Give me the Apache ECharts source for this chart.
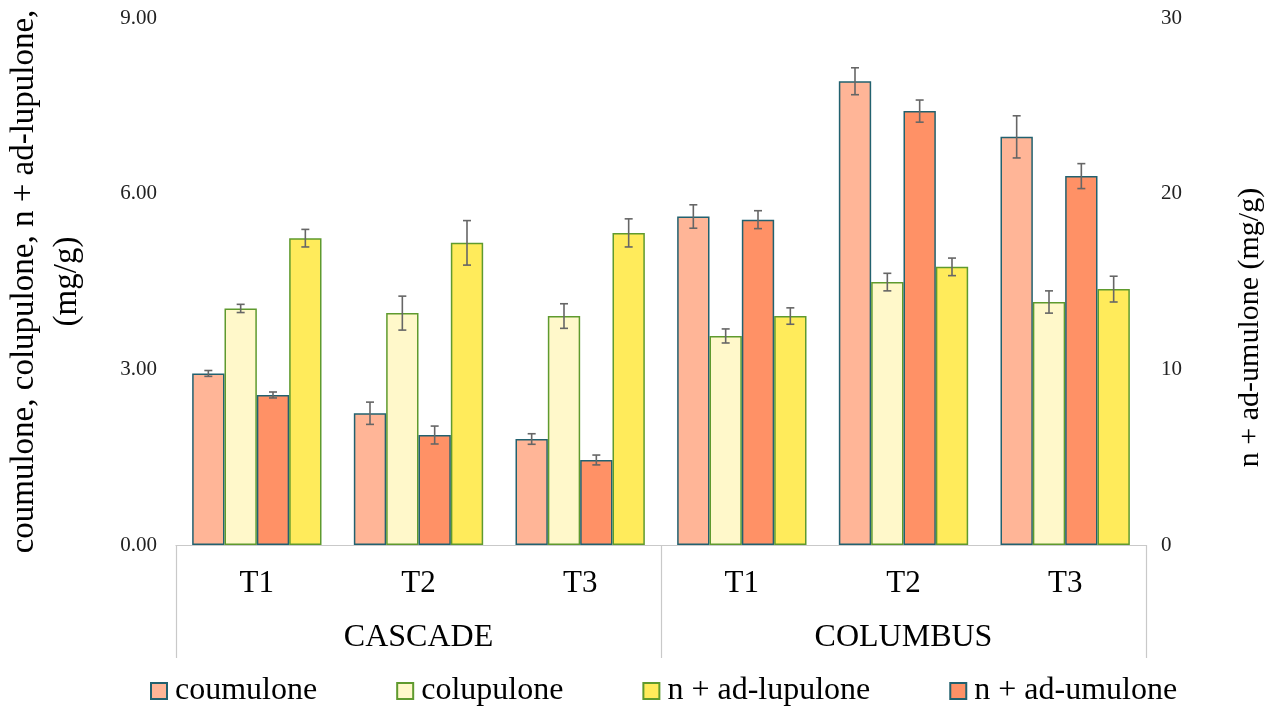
<!DOCTYPE html>
<html>
<head>
<meta charset="utf-8">
<script src="https://cdn.jsdelivr.net/npm/echarts@6/dist/echarts.min.js"></script>
<style>
  html, body { margin: 0; padding: 0; background: #fff; }
  #chart { width: 1268px; height: 706px; }
</style>
</head>
<body>
<div id="chart"></div>
<script>
// Treatments per hop variety
const categories = ['T1', 'T2', 'T3', 'T1', 'T2', 'T3'];
const varieties = ['CASCADE', 'COLUMBUS'];

// Means (mg/g) and standard deviations
const coumulone = [2.93, 2.25, 1.81, 5.61, 7.92, 6.97];
const coumuloneSd = [0.05, 0.19, 0.09, 0.20, 0.23, 0.36];
const colupulone = [4.04, 3.96, 3.91, 3.57, 4.49, 4.15];
const colupuloneSd = [0.07, 0.29, 0.21, 0.12, 0.15, 0.19];
const adUmulone = [8.54, 6.26, 4.84, 18.52, 24.70, 21.00];   // right axis
const adUmuloneSd = [0.17, 0.51, 0.28, 0.51, 0.63, 0.71];
const adLupulone = [5.24, 5.16, 5.33, 3.91, 4.75, 4.37];
const adLupuloneSd = [0.15, 0.38, 0.24, 0.14, 0.15, 0.22];

const leftTicks = { min: 0, max: 9, interval: 3 };
const rightTicks = { min: 0, max: 30, interval: 10 };

const FONT = '"Liberation Serif", "Times New Roman", serif';
const TEAL = '#22616f';
const GREEN = '#5f9a2e';
const AXIS_GRAY = '#c9c9c9';
const BAR_CAT_GAP = 0.2;
const N_BARS = 4;

// Error bars drawn on top of the bar at position `slot` within each category
function errorSeries(name, means, sds, slot, yAxisIndex) {
  return {
    name: name,
    type: 'custom',
    xAxisIndex: 0,
    yAxisIndex: yAxisIndex,
    z: 5,
    silent: true,
    data: means.map((v, i) => [i, v, sds[i]]),
    renderItem: function (params, api) {
      const i = api.value(0), v = api.value(1), e = api.value(2);
      const band = api.size([1, 0])[0];
      const bw = band * (1 - BAR_CAT_GAP) / N_BARS;
      const base = api.coord([i, v]);
      const cx = base[0] + (slot - (N_BARS - 1) / 2) * bw;
      const yt = api.coord([i, v + e])[1];
      const yb = api.coord([i, v - e])[1];
      const cap = 4;
      const style = { stroke: '#666666', lineWidth: 1.6 };
      return {
        type: 'group',
        children: [
          { type: 'line', shape: { x1: cx, y1: yt, x2: cx, y2: yb }, style: style },
          { type: 'line', shape: { x1: cx - cap, y1: yt, x2: cx + cap, y2: yt }, style: style },
          { type: 'line', shape: { x1: cx - cap, y1: yb, x2: cx + cap, y2: yb }, style: style }
        ]
      };
    }
  };
}

function barSeries(name, values, fill, border, yAxisIndex) {
  return {
    name: name,
    type: 'bar',
    xAxisIndex: 0,
    yAxisIndex: yAxisIndex,
    barGap: 0,
    barCategoryGap: (BAR_CAT_GAP * 100) + '%',
    data: values,
    itemStyle: { color: fill, borderColor: border, borderWidth: 1.5 }
  };
}

const chart = echarts.init(document.getElementById('chart'));
chart.setOption({
  animation: false,
  backgroundColor: '#ffffff',
  textStyle: { fontFamily: FONT },
  grid: {
    left: 176, right: 122, top: 18, bottom: 161,
    containLabel: false, outerBoundsMode: 'none'
  },
  legend: {
    data: ['coumulone', 'colupulone', 'n + ad-lupulone', 'n + ad-umulone'],
    top: 670,
    left: 145,
    icon: 'rect',
    itemWidth: 16,
    itemHeight: 16,
    itemGap: 79,
    textStyle: { fontFamily: FONT, fontSize: 32, color: '#000', padding: [0, 0, 0, 3] }
  },
  xAxis: [
    {
      type: 'category',
      data: categories,
      position: 'bottom',
      axisLine: { show: true, lineStyle: { color: AXIS_GRAY, width: 1.2 } },
      axisTick: { show: false },
      axisLabel: { fontFamily: FONT, fontSize: 31, color: '#000', margin: 23 },
      splitLine: { show: false }
    },
    {
      type: 'category',
      data: varieties,
      position: 'bottom',
      axisLine: { show: false },
      axisTick: { show: true, length: 113, lineStyle: { color: AXIS_GRAY, width: 1.2 } },
      axisLabel: { fontFamily: FONT, fontSize: 32, color: '#000', margin: 77 },
      splitLine: { show: false }
    }
  ],
  yAxis: [
    {
      type: 'value',
      min: leftTicks.min,
      max: leftTicks.max,
      interval: leftTicks.interval,
      position: 'left',
      name: 'coumulone, colupulone, n + ad-lupulone,\n(mg/g)',
      nameLocation: 'middle',
      nameRotate: 90,
      nameGap: 87,
      nameTextStyle: { fontFamily: FONT, fontSize: 33, color: '#000', lineHeight: 43 },
      axisLine: { show: false },
      axisTick: { show: false },
      splitLine: { show: false },
      axisLabel: {
        fontFamily: FONT, fontSize: 21, color: '#222', margin: 19,
        formatter: v => v.toFixed(2)
      }
    },
    {
      type: 'value',
      min: rightTicks.min,
      max: rightTicks.max,
      interval: rightTicks.interval,
      position: 'right',
      name: 'n + ad-umulone (mg/g)',
      nameLocation: 'middle',
      nameRotate: 90,
      nameGap: 89,
      nameTextStyle: { fontFamily: FONT, fontSize: 30, color: '#000', padding: [0, 92, 0, 0] },
      axisLine: { show: false },
      axisTick: { show: false },
      splitLine: { show: false },
      axisLabel: { fontFamily: FONT, fontSize: 21, color: '#222', margin: 15 }
    }
  ],
  series: [
    barSeries('coumulone', coumulone, '#ffb597', TEAL, 0),
    barSeries('colupulone', colupulone, '#fff8ca', GREEN, 0),
    barSeries('n + ad-umulone', adUmulone, '#ff9166', TEAL, 1),
    barSeries('n + ad-lupulone', adLupulone, '#ffeb5b', GREEN, 0),
    errorSeries('coumulone SD', coumulone, coumuloneSd, 0, 0),
    errorSeries('colupulone SD', colupulone, colupuloneSd, 1, 0),
    errorSeries('n + ad-umulone SD', adUmulone, adUmuloneSd, 2, 1),
    errorSeries('n + ad-lupulone SD', adLupulone, adLupuloneSd, 3, 0)
  ]
});
</script>
</body>
</html>
